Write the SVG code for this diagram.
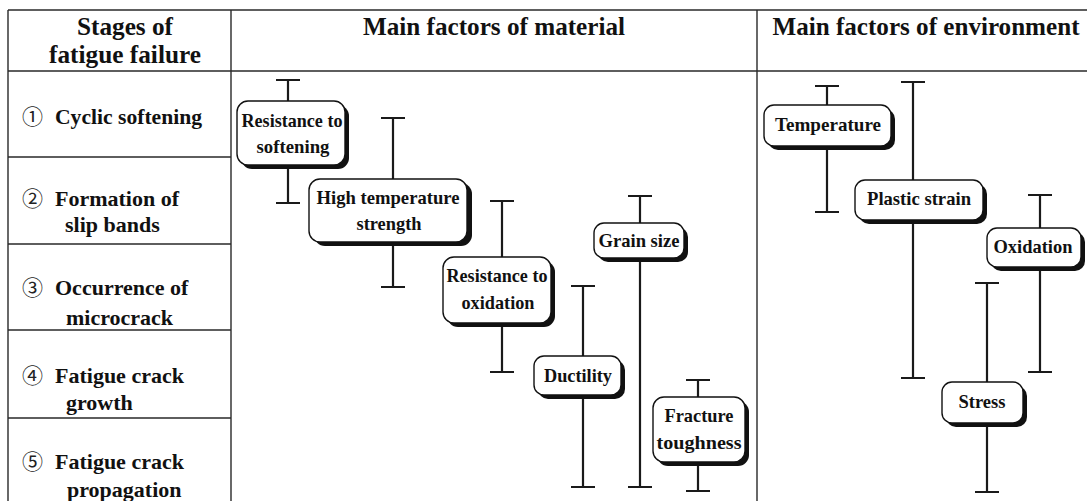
<svg xmlns="http://www.w3.org/2000/svg" width="1087" height="501" viewBox="0 0 1087 501">
<style>
.grid{stroke:#2a2a2a;stroke-width:1.4;fill:none}
.bar{stroke:#1a1a1a;stroke-width:2.2;fill:none}
.shadow{fill:#111}
.box{fill:#fff;stroke:#111;stroke-width:1.4}
.hd{font-family:"Liberation Serif","Times New Roman",serif;font-weight:bold;font-size:25px;fill:#111;text-anchor:middle}
.row{font-family:"Liberation Serif","Times New Roman",serif;font-weight:bold;font-size:22px;fill:#111}
.num{font-family:"Noto Sans CJK JP","DejaVu Sans",sans-serif;font-weight:normal;font-size:21px;fill:#222}
.lbl{font-family:"Liberation Serif","Times New Roman",serif;font-weight:bold;font-size:19px;fill:#111;text-anchor:middle}
</style>
<rect width="1087" height="501" fill="#fff"/>
<g id="table">
<path class="grid" d="M8 10H1087M8 71H1087M8 10V501M231 10V501M757 10V501M8 157H231M8 244H231M8 330H231M8 418H231"/>
<text class="hd" x="125" y="35" textLength="96" lengthAdjust="spacingAndGlyphs">Stages of</text>
<text class="hd" x="125" y="63" textLength="152" lengthAdjust="spacingAndGlyphs">fatigue failure</text>
<text class="hd" x="494" y="35" textLength="262" lengthAdjust="spacingAndGlyphs">Main factors of material</text>
<text class="hd" x="926" y="35" textLength="307" lengthAdjust="spacingAndGlyphs">Main factors of environment</text>
</g>
<g id="stage1">
<text class="num" x="22" y="124">①</text>
<text class="row" x="55" y="124" textLength="147" lengthAdjust="spacingAndGlyphs">Cyclic softening</text>
</g>
<g id="stage2">
<text class="num" x="22" y="206">②</text>
<text class="row" x="55" y="206">Formation of</text>
<text class="row" x="65" y="232">slip bands</text>
</g>
<g id="stage3">
<text class="num" x="22" y="295">③</text>
<text class="row" x="55" y="295">Occurrence of</text>
<text class="row" x="66" y="325">microcrack</text>
</g>
<g id="stage4">
<text class="num" x="22" y="383">④</text>
<text class="row" x="55" y="383">Fatigue crack</text>
<text class="row" x="66" y="410">growth</text>
</g>
<g id="stage5">
<text class="num" x="22" y="469">⑤</text>
<text class="row" x="55" y="469">Fatigue crack</text>
<text class="row" x="67" y="497">propagation</text>
</g>
<g id="connectors">
<path class="bar" d="M288 80V203M276 80H300M276 203H300"/>
<path class="bar" d="M393 118V287M381 118H405M381 287H405"/>
<path class="bar" d="M502 201V372M490 201H514M490 372H514"/>
<path class="bar" d="M583 286V487M571 286H595M571 487H595"/>
<path class="bar" d="M640 196V487M628 196H652M628 487H652"/>
<path class="bar" d="M698 380V491M686 380H710M686 491H710"/>
<path class="bar" d="M827 86V212M815 86H839M815 212H839"/>
<path class="bar" d="M913 82V378M901 82H925M901 378H925"/>
<path class="bar" d="M1040 195V372M1028 195H1052M1028 372H1052"/>
<path class="bar" d="M987 283V492M975 283H999M975 492H999"/>
</g>
<g id="resistance-softening">
<rect class="shadow" x="241" y="105" width="108" height="64" rx="11"/>
<rect class="box" x="237" y="101" width="108" height="64" rx="11"/>
<text class="lbl" x="292" y="127" textLength="101" lengthAdjust="spacingAndGlyphs">Resistance to</text>
<text class="lbl" x="293" y="153" textLength="73" lengthAdjust="spacingAndGlyphs">softening</text>
</g>
<g id="high-temperature-strength">
<rect class="shadow" x="314" y="183" width="158" height="63" rx="11"/>
<rect class="box" x="309" y="179" width="158" height="63" rx="11"/>
<text class="lbl" x="388" y="204" textLength="143" lengthAdjust="spacingAndGlyphs">High temperature</text>
<text class="lbl" x="389" y="230" textLength="65" lengthAdjust="spacingAndGlyphs">strength</text>
</g>
<g id="resistance-oxidation">
<rect class="shadow" x="447" y="261" width="108" height="66" rx="11"/>
<rect class="box" x="443" y="257" width="108" height="66" rx="11"/>
<text class="lbl" x="497" y="282" textLength="101" lengthAdjust="spacingAndGlyphs">Resistance to</text>
<text class="lbl" x="498" y="309" textLength="73" lengthAdjust="spacingAndGlyphs">oxidation</text>
</g>
<g id="ductility">
<rect class="shadow" x="538" y="360" width="87" height="39" rx="10"/>
<rect class="box" x="534" y="356" width="87" height="39" rx="10"/>
<text class="lbl" x="578" y="382" textLength="68" lengthAdjust="spacingAndGlyphs">Ductility</text>
</g>
<g id="grain-size">
<rect class="shadow" x="598" y="227" width="90" height="35" rx="10"/>
<rect class="box" x="594" y="223" width="90" height="35" rx="10"/>
<text class="lbl" x="639" y="247" textLength="81" lengthAdjust="spacingAndGlyphs">Grain size</text>
</g>
<g id="fracture-toughness">
<rect class="shadow" x="657" y="401" width="92" height="65" rx="11"/>
<rect class="box" x="653" y="397" width="92" height="65" rx="11"/>
<text class="lbl" x="699" y="422" textLength="69" lengthAdjust="spacingAndGlyphs">Fracture</text>
<text class="lbl" x="699" y="449" textLength="85" lengthAdjust="spacingAndGlyphs">toughness</text>
</g>
<g id="temperature">
<rect class="shadow" x="768" y="109" width="127" height="41" rx="10"/>
<rect class="box" x="764" y="105" width="127" height="41" rx="10"/>
<text class="lbl" x="828" y="131" textLength="106" lengthAdjust="spacingAndGlyphs">Temperature</text>
</g>
<g id="plastic-strain">
<rect class="shadow" x="859" y="184" width="128" height="40" rx="10"/>
<rect class="box" x="855" y="180" width="128" height="40" rx="10"/>
<text class="lbl" x="919" y="205" textLength="104" lengthAdjust="spacingAndGlyphs">Plastic strain</text>
</g>
<g id="oxidation">
<rect class="shadow" x="991" y="232" width="94" height="39" rx="10"/>
<rect class="box" x="987" y="228" width="94" height="39" rx="10"/>
<text class="lbl" x="1033" y="253" textLength="79" lengthAdjust="spacingAndGlyphs">Oxidation</text>
</g>
<g id="stress">
<rect class="shadow" x="946" y="386" width="81" height="41" rx="10"/>
<rect class="box" x="942" y="382" width="81" height="41" rx="10"/>
<text class="lbl" x="982" y="408" textLength="47" lengthAdjust="spacingAndGlyphs">Stress</text>
</g>
</svg>
